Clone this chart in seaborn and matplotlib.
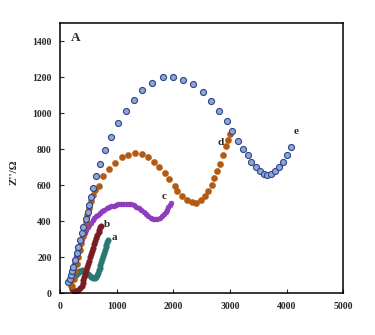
import matplotlib
matplotlib.use("Agg")
import matplotlib.pyplot as plt
import seaborn as sns
import pandas as pd

# Nyquist data, Z' (x) and Z'' (y) in ohm, for electrodes a–e
a_x = [290, 315, 340, 365, 390, 415, 440, 465, 490, 515, 540, 565, 590, 615, 638,
       655, 670, 685, 700, 715, 730, 745, 760, 775, 790, 805, 820, 835, 848]
a_y = [105, 115, 122, 127, 128, 126, 121, 114, 107, 100, 94, 89, 86, 86, 90,
       100, 114, 129, 144, 160, 176, 192, 208, 224, 240, 256, 271, 284, 294]

b_x = [180, 195, 220, 255, 290, 325, 355, 380, 398, 414, 430, 447, 464, 482, 500,
       518, 536, 554, 572, 590, 608, 626, 644, 662, 680, 697, 712, 725]
b_y = [60, 40, 24, 16, 14, 18, 28, 40, 56, 74, 92, 110, 128, 146, 164,
       182, 200, 218, 236, 254, 272, 290, 308, 324, 340, 354, 366, 375]

c_x = [185, 200, 215, 232, 250, 268, 287, 305, 325, 345, 365, 388, 410, 435, 460,
       488, 515, 545, 575, 608, 640, 675, 710, 748, 785, 825, 865, 905, 945, 990,
       1030, 1075, 1120, 1165, 1210, 1255, 1300, 1345, 1390, 1435, 1478, 1520, 1560,
       1600, 1640, 1680, 1720, 1760, 1800, 1835, 1865, 1890, 1915, 1935, 1955]
c_y = [80, 100, 120, 142, 165, 187, 208, 228, 248, 267, 284, 302, 318, 335, 350,
       366, 380, 393, 405, 417, 428, 438, 448, 457, 465, 472, 478, 484, 488, 492,
       495, 497, 498, 498, 497, 494, 489, 482, 473, 462, 450, 439, 429,
       420, 414, 412, 414, 420, 429, 440, 452, 464, 477, 490, 503]

d_x = [212, 239, 265, 292, 318, 345, 371, 398, 424, 451, 477, 504, 539, 574, 618,
       694, 765, 871, 972, 1090, 1207, 1325, 1444, 1560, 1661, 1755, 1855, 1931,
       2032, 2073, 2150, 2239, 2327, 2403, 2486, 2562, 2620, 2680, 2727, 2779, 2827,
       2886, 2933, 2963, 3004]
d_y = [44, 83, 122, 161, 200, 239, 278, 317, 356, 394, 433, 472, 511, 544, 575,
       597, 649, 690, 723, 757, 770, 779, 775, 757, 732, 701, 668, 634,
       597, 571, 542, 519, 507, 504, 519, 542, 569, 603, 640, 677, 718,
       766, 816, 853, 886]

e_x = [147, 168, 194, 212, 235, 265, 295, 323, 353, 383, 412, 454, 489, 512, 548,
       574, 636, 707, 795, 896, 1030, 1161, 1308, 1449, 1631, 1820, 2002, 2179,
       2355, 2522, 2673, 2815, 2945, 3045, 3151, 3228, 3322, 3380, 3463, 3534, 3605,
       3663, 3723, 3799, 3875, 3946, 4016, 4082]
e_y = [64, 80, 103, 122, 149, 186, 223, 260, 297, 334, 371, 412, 454, 492, 534,
       583, 654, 719, 797, 868, 946, 1010, 1075, 1131, 1170, 1199, 1199, 1183,
       1160, 1120, 1066, 1010, 955, 899, 847, 801, 766, 732, 701, 677, 664,
       658, 662, 677, 701, 732, 769, 812]

curve_labels = ["a", "b", "c", "d", "e"]
label_x = [954, 830, 1838, 2845, 4170]
label_y = [308, 380, 536, 836, 897]

x_ticks = [0, 1000, 2000, 3000, 4000, 5000]
y_ticks = [0, 200, 400, 600, 800, 1000, 1200, 1400]

sns.set_style("white")
plt.rcParams["font.family"] = ["Liberation Serif", "DejaVu Serif"]

fig = plt.figure(figsize=(3.75, 3.35), dpi=100)
ax = fig.add_axes([0.16, 0.124, 0.755, 0.807])

styles = [
    (a_x, a_y, dict(color="#2B7773", s=16, edgecolor="#2B7773", linewidth=0.3)),
    (b_x, b_y, dict(color="#7B1C22", s=16, edgecolor="#7B1C22", linewidth=0.3)),
    (c_x, c_y, dict(color="#9440C4", s=13, edgecolor="#7A2FAA", linewidth=0.3)),
    (d_x, d_y, dict(color="#B35A12", s=20, edgecolor="#B35A12", linewidth=0.3)),
    (e_x, e_y, dict(color="#8EA6D6", s=19, edgecolor="#2C4485", linewidth=0.8)),
]
for xs, ys, kw in styles:
    df = pd.DataFrame({"Zre": xs, "Zim": ys})
    sns.scatterplot(data=df, x="Zre", y="Zim", ax=ax, legend=False, **kw)

for t, lx, ly in zip(curve_labels, label_x, label_y):
    ax.text(lx, ly, t, fontsize=8, fontweight="bold", ha="center", va="center")

ax.text(0.039, 0.968, "A", transform=ax.transAxes, fontsize=9.5,
        fontweight="bold", ha="left", va="top")

ax.set_xlim(0, 5000)
ax.set_ylim(0, 1500)
ax.set_xticks(x_ticks)
ax.set_yticks(y_ticks)
ax.set_xticklabels([str(v) for v in x_ticks], fontsize=7, fontweight="bold")
ax.set_yticklabels([str(v) for v in y_ticks], fontsize=7, fontweight="bold")
ax.tick_params(axis="x", direction="in", length=3, width=0.8, pad=6, bottom=True)
ax.tick_params(axis="y", direction="in", length=3, width=0.8, pad=6, left=True)
ax.set_xlabel("")
ax.set_ylabel("Z''/Ω", fontsize=8, fontweight="bold")
ax.yaxis.set_label_coords(-0.145, 0.45)

for sp in ax.spines.values():
    sp.set_visible(True)
    sp.set_color("black")
    sp.set_linewidth(1.1)

fig.savefig("out.png", dpi=100)
